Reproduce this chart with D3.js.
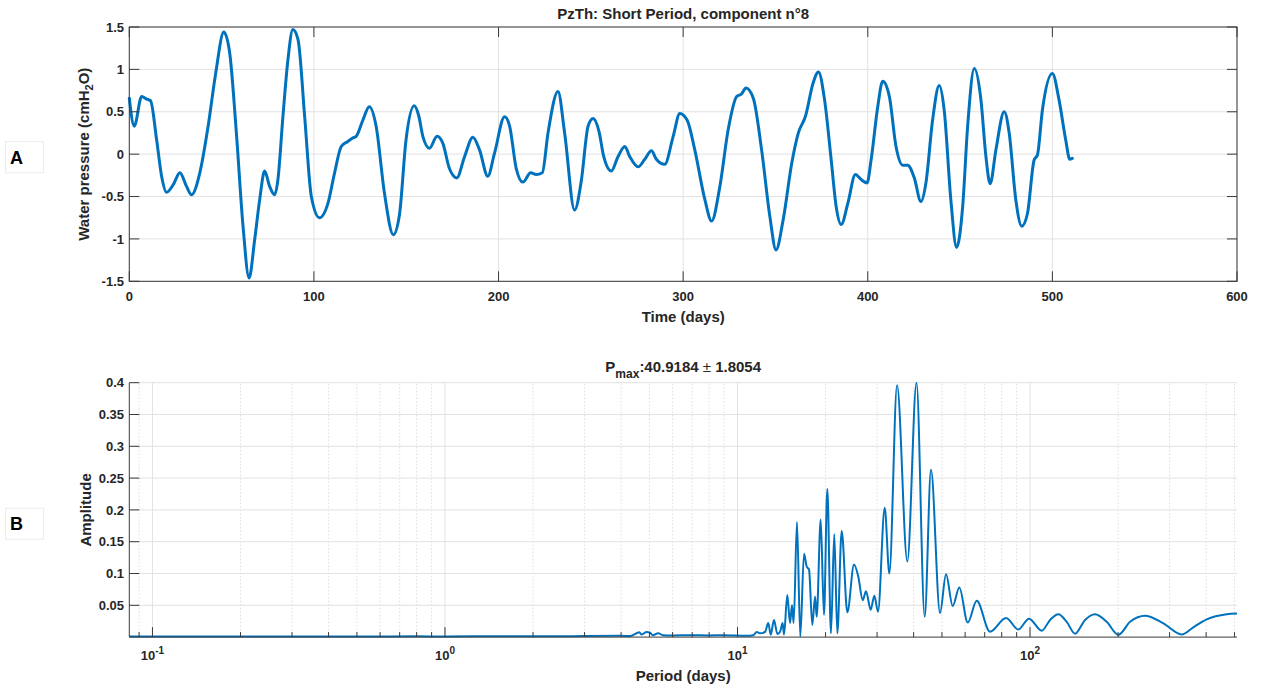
<!DOCTYPE html>
<html>
<head>
<meta charset="utf-8">
<script src="https://cdn.jsdelivr.net/npm/d3@7"></script>
<style>
  html, body { margin: 0; padding: 0; background: #fff; }
  svg text { font-family: "Liberation Sans", Arial, Helvetica, sans-serif; fill: #262626; }
</style>
</head>
<body>
<svg id="fig" width="1264" height="688"></svg>
<script>
// ---- Panel A: short-period component, water pressure over time ----
const timeDays = [0, 2.7, 6.7, 9.4, 11.5, 14.8, 17.5, 20.2, 23.8, 27.4, 31, 33.7, 38.2, 42.7, 46.8, 51.2, 54.4, 58, 61.6, 64.9,
  67.9, 70.6, 73.3, 76, 78.7, 80.5, 83.2, 85.9, 88.6, 91.4, 95, 98.6, 103, 107.6, 111.2, 114.8, 118.4, 121, 122.9, 126.5,
  130, 133.7, 138.2, 143, 146.3, 149.9, 154.3, 156.8, 159, 162.6, 166.7, 169.8, 173.4, 177.4, 181.6, 186.1, 189.7, 194.2,
  197.8, 203.3, 206, 209.6, 213.2, 217.4, 220.4, 223.7, 226.8, 232.2, 235.8, 241.2, 244.8, 248.5, 251.2, 254.4, 257,
  261.1, 264.7, 268.4, 271.1, 275.6, 279.2, 282.8, 285.5, 290, 294.6, 298.2, 302.2, 306.3, 311.8, 315.4, 319.9, 324.4,
  329, 331.6, 334, 338, 342.5, 347, 350.3, 354.2, 358.8, 362.4, 366.3, 370.4, 373.3, 376.6, 380.2, 382.9, 385.6, 389.2,
  393.3, 396.4, 399.6, 401.8, 405.4, 408.1, 411.7, 415.3, 418.9, 421.6, 425.2, 428.8, 431.5, 435.1, 438.7, 441.4, 445,
  448.1, 451.4, 454.1, 457.7, 461.3, 464, 466.3, 469.4, 473.9, 476.6, 480.2, 483.4, 486.5, 490.1, 491.9, 494.6, 500,
  503.6, 507.2, 509.4, 510.8];
const pressure = [0.66, 0.33, 0.68, 0.65, 0.63, 0.17, -0.26, -0.45, -0.36, -0.22, -0.38, -0.48, -0.22, 0.33, 0.955, 1.44, 1.19, 0.25, -0.85, -1.46,
  -1.01, -0.54, -0.2, -0.38, -0.48, -0.3, 0.44, 1.11, 1.47, 1.35, 0.44, -0.5, -0.75, -0.58, -0.22, 0.09, 0.15, 0.19, 0.21, 0.4,
  0.56, 0.33, -0.46, -0.95, -0.72, 0.17, 0.57, 0.45, 0.21, 0.07, 0.21, 0.13, -0.17, -0.28, -0.03, 0.2, 0.05, -0.26,
  0.01, 0.44, 0.33, -0.17, -0.33, -0.22, -0.24, -0.22, 0.25, 0.74, 0.25, -0.66, -0.32, 0.33, 0.42, 0.27, -0.03,
  -0.2, -0.03, 0.09, -0.03, -0.15, -0.06, 0.04, -0.06, -0.12, 0.21, 0.48, 0.4, 0.05, -0.54, -0.79, -0.38, 0.29,
  0.68, 0.71, 0.78, 0.66, 0.05, -0.74, -1.13, -0.77, -0.11, 0.25, 0.45, 0.84, 0.97, 0.64, -0.07, -0.62, -0.83, -0.58,
  -0.24, -0.3, -0.34, -0.07, 0.56, 0.86, 0.68, 0.09, -0.13, -0.13, -0.28, -0.56, -0.34, 0.4, 0.81, 0.52, -0.54,
  -1.1, -0.62, 0.33, 1.01, 0.64, -0.03, -0.35, 0.05, 0.5, 0.25, -0.54, -0.85, -0.7, -0.07, -0.01, 0.52, 0.95,
  0.64, 0.17, -0.06, -0.05];
const timeTicks = [0, 100, 200, 300, 400, 500, 600];
const pressureTicks = [-1.5, -1, -0.5, 0, 0.5, 1, 1.5];

// ---- Panel B: amplitude spectrum against period ----
const periodDays = [1/12, 0.1, 0.15, 0.2, 0.3, 0.5, 0.8, 1, 1.5, 2, 3, 4, 4.3, 4.62, 4.70, 4.89, 5.02, 5.13, 5.36, 5.56,
  6, 7, 8, 9, 10, 10.7, 11.32, 11.63, 11.94, 12.42, 12.74, 12.99, 13.33, 13.68, 13.97, 14.27, 14.42, 14.80, 15.12,
  15.36, 15.56, 15.97, 16.39, 16.88, 17.24, 17.56, 18.02, 18.41, 18.65, 19.25, 19.75, 20.28, 20.87, 21.42, 21.94,
  22.71, 23.74, 25.02, 25.88, 26.79, 27.50, 28.53, 29.36, 30.22, 31.86, 33.04, 35.11, 38.07, 40.92, 43.65, 45.86,
  49.24, 51.62, 54.41, 57.33, 61.24, 65.73, 72.98, 82.79, 91.2, 99.22, 109.65, 117.1, 125, 133.5, 142.5, 154.2,
  166.8, 182.9, 200.4, 219.8, 247.3, 285.6, 330.1, 361.6, 401.8, 470.4, 510];
const amplitude = [0.0010, 0.0008, 0.0010, 0.0009, 0.0011, 0.0010, 0.0012, 0.0010, 0.0013, 0.0012, 0.0016, 0.0020, 0.0018, 0.0075, 0.0040, 0.0080, 0.0070, 0.0030, 0.0060, 0.0030,
  0.0025, 0.0030, 0.0025, 0.0030, 0.0025, 0.0020, 0.0030, 0.0080, 0.0060, 0.0080, 0.022, 0.004, 0.027, 0.005, 0.008, 0.022, 0.004, 0.066, 0.022,
  0.050, 0.022, 0.181, 0.001, 0.131, 0.111, 0.106, 0.019, 0.064, 0.032, 0.185, 0.035, 0.233, 0.006, 0.162, 0.006,
  0.167, 0.039, 0.114, 0.095, 0.058, 0.072, 0.043, 0.065, 0.040, 0.2035, 0.100, 0.396, 0.119, 0.400, 0.032, 0.263,
  0.038, 0.099, 0.049, 0.078, 0.023, 0.057, 0.0085, 0.030, 0.012, 0.029, 0.010, 0.027, 0.036, 0.024, 0.0054, 0.027,
  0.036, 0.024, 0.0037, 0.024, 0.0337, 0.0217, 0.0042, 0.0154, 0.028, 0.036, 0.037];
const amplitudeTicks = [0.05, 0.1, 0.15, 0.2, 0.25, 0.3, 0.35, 0.4];
const periodDecades = [-1, 0, 1, 2];

const titleTop = "PzTh: Short Period, component n°8";
const pMax = "40.9184", pErr = "1.8054";

const BLUE = "#0072BD", INK = "#262626", GRID = "#e2e2e2";
const svg = d3.select("#fig");

// ---------- Panel A ----------
const xA = d3.scaleLinear().domain([0, 600]).range([129.3, 1237]);
const yA = d3.scaleLinear().domain([-1.5, 1.5]).range([281.3, 27]);
const gA = svg.append("g");

gA.selectAll("line.gx").data(timeTicks).join("line")
  .attr("x1", d => xA(d)).attr("x2", d => xA(d)).attr("y1", yA(-1.5)).attr("y2", yA(1.5))
  .attr("stroke", GRID).attr("stroke-width", 1);
gA.selectAll("line.gy").data(pressureTicks).join("line")
  .attr("x1", xA(0)).attr("x2", xA(600)).attr("y1", d => yA(d)).attr("y2", d => yA(d))
  .attr("stroke", GRID).attr("stroke-width", 1);

gA.append("path")
  .datum(d3.zip(timeDays, pressure))
  .attr("fill", "none").attr("stroke", BLUE).attr("stroke-width", 3)
  .attr("stroke-linejoin", "round").attr("stroke-linecap", "round")
  .attr("d", d3.line().x(d => xA(d[0])).y(d => yA(d[1])).curve(d3.curveMonotoneX));

// frame and inward ticks on all four sides
gA.append("rect").attr("x", xA(0)).attr("y", yA(1.5)).attr("width", xA(600) - xA(0)).attr("height", yA(-1.5) - yA(1.5))
  .attr("fill", "none").attr("stroke", "#3a3a3a").attr("stroke-width", 1);
const TK = 10;
timeTicks.forEach(t => {
  gA.append("line").attr("x1", xA(t)).attr("x2", xA(t)).attr("y1", yA(-1.5)).attr("y2", yA(-1.5) - TK).attr("stroke", "#3a3a3a");
  gA.append("line").attr("x1", xA(t)).attr("x2", xA(t)).attr("y1", yA(1.5)).attr("y2", yA(1.5) + TK).attr("stroke", "#3a3a3a");
});
pressureTicks.forEach(v => {
  gA.append("line").attr("x1", xA(0)).attr("x2", xA(0) + TK).attr("y1", yA(v)).attr("y2", yA(v)).attr("stroke", "#3a3a3a");
  gA.append("line").attr("x1", xA(600)).attr("x2", xA(600) - TK).attr("y1", yA(v)).attr("y2", yA(v)).attr("stroke", "#3a3a3a");
});
gA.selectAll("text.tx").data(timeTicks).join("text")
  .attr("x", d => xA(d)).attr("y", 300.5).attr("text-anchor", "middle")
  .attr("font-size", 13).attr("font-weight", "bold").text(d => d);
gA.selectAll("text.ty").data(pressureTicks).join("text")
  .attr("x", 124).attr("y", d => yA(d) + 4.6).attr("text-anchor", "end")
  .attr("font-size", 13).attr("font-weight", "bold").text(d => d);

gA.append("text").attr("x", 683.2).attr("y", 19).attr("text-anchor", "middle")
  .attr("font-size", 15).attr("font-weight", "bold").text(titleTop);
gA.append("text").attr("x", 683.2).attr("y", 321.5).attr("text-anchor", "middle")
  .attr("font-size", 15).attr("font-weight", "bold").text("Time (days)");
const ylA = gA.append("text").attr("transform", "translate(89,154.2) rotate(-90)").attr("text-anchor", "middle")
  .attr("font-size", 15).attr("font-weight", "bold");
ylA.append("tspan").text("Water pressure (cmH");
ylA.append("tspan").attr("dy", 4).attr("font-size", 11).text("2");
ylA.append("tspan").attr("dy", -4).text("O)");

// ---------- Panel B ----------
const xB = d3.scaleLog().domain([1 / 12, 510]).range([129.3, 1237]);
const yB = d3.scaleLinear().domain([0, 0.4]).range([637.1, 382.7]);
const gB = svg.append("g");

// minor (dotted) and major (solid) vertical grid
const minorP = [];
[-2, -1, 0, 1, 2].forEach(e => { for (let m = 2; m <= 9; m++) { const p = m * Math.pow(10, e); if (p >= 1 / 12 && p <= 510) minorP.push(p); } });
gB.selectAll("line.mg").data(minorP).join("line")
  .attr("x1", d => xB(d)).attr("x2", d => xB(d)).attr("y1", yB(0)).attr("y2", yB(0.4))
  .attr("stroke", "#d6d6d6").attr("stroke-width", 0.8).attr("stroke-dasharray", "1.5,2");
gB.selectAll("line.Mg").data(periodDecades).join("line")
  .attr("x1", d => xB(Math.pow(10, d))).attr("x2", d => xB(Math.pow(10, d))).attr("y1", yB(0)).attr("y2", yB(0.4))
  .attr("stroke", GRID).attr("stroke-width", 1);
gB.selectAll("line.gy").data(amplitudeTicks).join("line")
  .attr("x1", xB(1 / 12)).attr("x2", xB(510)).attr("y1", d => yB(d)).attr("y2", d => yB(d))
  .attr("stroke", GRID).attr("stroke-width", 1);

gB.append("path")
  .datum(d3.zip(periodDays, amplitude))
  .attr("fill", "none").attr("stroke", BLUE).attr("stroke-width", 2)
  .attr("stroke-linejoin", "round")
  .attr("d", d3.line().x(d => xB(d[0])).y(d => yB(d[1])).curve(d3.curveMonotoneX));

// left and bottom axis lines with inward ticks
gB.append("line").attr("x1", xB(1 / 12)).attr("x2", xB(1 / 12)).attr("y1", yB(0)).attr("y2", yB(0.4)).attr("stroke", "#3a3a3a");
gB.append("line").attr("x1", xB(1 / 12)).attr("x2", xB(510)).attr("y1", yB(0)).attr("y2", yB(0)).attr("stroke", "#3a3a3a");
amplitudeTicks.forEach(v => {
  gB.append("line").attr("x1", xB(1 / 12)).attr("x2", xB(1 / 12) + TK).attr("y1", yB(v)).attr("y2", yB(v)).attr("stroke", "#3a3a3a");
});
periodDecades.forEach(e => {
  gB.append("line").attr("x1", xB(Math.pow(10, e))).attr("x2", xB(Math.pow(10, e))).attr("y1", yB(0)).attr("y2", yB(0) - TK).attr("stroke", "#3a3a3a");
});
minorP.forEach(p => {
  gB.append("line").attr("x1", xB(p)).attr("x2", xB(p)).attr("y1", yB(0)).attr("y2", yB(0) - 5).attr("stroke", "#3a3a3a");
});

gB.selectAll("text.ty").data(amplitudeTicks).join("text")
  .attr("x", 124).attr("y", d => yB(d) + 4.6).attr("text-anchor", "end")
  .attr("font-size", 13).attr("font-weight", "bold").text(d => d);
periodDecades.forEach(e => {
  const t = gB.append("text").attr("x", xB(Math.pow(10, e))).attr("y", 659.5).attr("text-anchor", "middle")
    .attr("font-size", 13).attr("font-weight", "bold");
  t.append("tspan").text("10");
  t.append("tspan").attr("dy", -6).attr("font-size", 10).text(e);
});

const tB = gB.append("text").attr("x", 683.2).attr("y", 372).attr("text-anchor", "middle")
  .attr("font-size", 15).attr("font-weight", "bold");
tB.append("tspan").text("P");
tB.append("tspan").attr("dy", 6).attr("font-size", 12).text("max");
tB.append("tspan").attr("dy", -6).text(":" + pMax + " ");
tB.append("tspan").attr("font-weight", "normal").text("±");
tB.append("tspan").text(" " + pErr);

gB.append("text").attr("x", 683.2).attr("y", 681).attr("text-anchor", "middle")
  .attr("font-size", 15).attr("font-weight", "bold").text("Period (days)");
gB.append("text").attr("transform", "translate(91,509.9) rotate(-90)").attr("text-anchor", "middle")
  .attr("font-size", 15).attr("font-weight", "bold").text("Amplitude");

// ---------- panel letters ----------
[["A", 141.7], ["B", 508.3]].forEach(([L, y0]) => {
  svg.append("rect").attr("x", 5.5).attr("y", y0).attr("width", 38).attr("height", 31)
    .attr("fill", "#fff").attr("stroke", "#ececec").attr("stroke-width", 1);
  svg.append("text").attr("x", 10).attr("y", y0 + 22).attr("font-size", 18).attr("font-weight", "bold")
    .style("fill", "#000").text(L);
});
</script>
</body>
</html>
